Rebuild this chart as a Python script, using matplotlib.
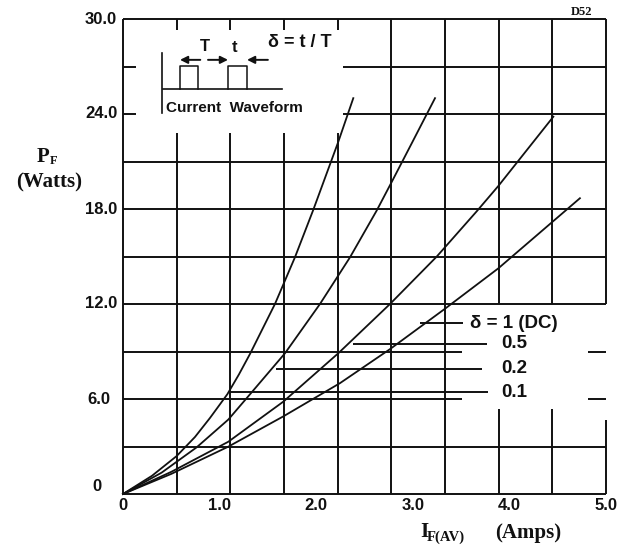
import matplotlib
matplotlib.use("Agg")
import matplotlib.pyplot as plt
import numpy as np

# forward power dissipation vs average forward current
curve_labels = ["0.1", "0.2", "0.5", "1 (DC)"]

i_01 = [0.0, 0.30, 0.556, 0.745, 0.90, 1.080, 1.20, 1.315, 1.573, 1.780, 1.970, 2.229, 2.384]
p_01 = [0.0, 1.15, 2.40, 3.60, 4.80, 6.30, 7.55, 8.85, 12.0, 14.95, 17.95, 22.25, 25.0]

i_02 = [0.0, 0.40, 0.763, 1.090, 1.315, 1.677, 2.039, 2.350, 2.626, 2.781, 2.989, 3.230]
p_02 = [0.0, 1.35, 2.95, 4.70, 6.30, 8.89, 12.0, 14.95, 17.9, 19.7, 22.15, 25.0]

i_05 = [0.0, 0.50, 1.090, 1.659, 2.229, 2.764, 3.247, 3.661, 3.885, 4.455]
p_05 = [0.0, 1.40, 3.30, 5.83, 8.89, 12.0, 14.99, 17.85, 19.45, 23.83]

i_dc = [0.0, 0.50, 1.090, 1.659, 2.246, 2.764, 3.333, 3.885, 4.730]
p_dc = [0.0, 1.27, 2.99, 4.90, 7.00, 9.15, 11.70, 14.25, 18.68]

# leader lines from each curve to its label
leader_y = [6.44, 7.90, 9.48, 10.80]
leader_x0 = [1.11, 1.58, 2.38, 3.07]
leader_x1 = [3.78, 3.72, 3.77, 3.52]
label_x = [3.92, 3.92, 3.92, 3.59]

x_ticks = [0, 1, 2, 3, 4, 5]
x_ticklabels = ["0", "1.0", "2.0", "3.0", "4.0", "5.0"]
y_ticks = [0, 6, 12, 18, 24, 30]
y_ticklabels = ["0", "6.0", "12.0", "18.0", "24.0", "30.0"]

INK = "#111111"
SANS = "Liberation Sans"
SERIF = "Liberation Serif"

fig = plt.figure(figsize=(6.25, 5.54), dpi=100)
ax = fig.add_axes([123 / 625, 60 / 554, 483 / 625, 475 / 554])
ax.set_xlim(0, 5)
ax.set_ylim(0, 30)
ax.axis("off")

GLW = 1.4

def seg_v(x, y0, y1):
    ax.plot([x, x], [y0, y1], color=INK, lw=GLW, solid_capstyle="butt", clip_on=False)

def seg_h(y, x0, x1):
    ax.plot([x0, x1], [y, y], color=INK, lw=GLW, solid_capstyle="butt", clip_on=False)

# vertical grid: 9 columns across 0..5 A, broken where the inset and labels sit
for k in range(1, 9):
    x = 5.0 * k / 9
    if k <= 4:
        seg_v(x, 0, 22.8)
        seg_v(x, 29.3, 30)
    elif k >= 7:
        seg_v(x, 0, 5.4)
        seg_v(x, 12, 30)
    else:
        seg_v(x, 0, 30)

# horizontal grid every 3 W
for j in range(1, 10):
    y = 3 * j
    if y in (6, 9):
        seg_h(y, 0, 3.51)
        seg_h(y, 4.81, 5.0)
    elif y in (24, 27):
        seg_h(y, 2.28, 5.0)
        seg_h(y, 0, 0.13)
    else:
        seg_h(y, 0, 5.0)

# frame (right side open next to the labels)
seg_v(0, 0, 30)
seg_h(0, 0, 5)
seg_h(30, 0, 5)
seg_v(5, 0, 4.7)
seg_v(5, 12, 30)

# curves
for xs, ys in [(i_01, p_01), (i_02, p_02), (i_05, p_05), (i_dc, p_dc)]:
    ax.plot(xs, ys, color=INK, lw=1.3, clip_on=False, solid_joinstyle="round")

# leaders and labels
for lab, y, x0, x1, lx in zip(curve_labels, leader_y, leader_x0, leader_x1, label_x):
    seg_h(y, x0, x1)
    txt = "δ = " + lab if lab.startswith("1") else lab
    ax.text(lx, y, txt, fontsize=13.5, family=SANS, fontweight="bold", color=INK,
            ha="left", va="center")

# tick labels
for x, s in zip(x_ticks, x_ticklabels):
    ax.text(x, -0.75, s, fontsize=12, family=SANS, fontweight="bold", color=INK,
            ha="center", va="center")
for y, s in zip(y_ticks, y_ticklabels):
    if y == 0:
        ax.text(-0.27, 0.45, s, fontsize=12, family=SANS, fontweight="bold", color=INK,
                ha="center", va="center")
    elif y == 6:
        ax.text(-0.13, y, s, fontsize=12, family=SANS, fontweight="bold", color=INK,
                ha="right", va="center")
    else:
        ax.text(-0.06, y, s, fontsize=12, family=SANS, fontweight="bold", color=INK,
                ha="right", va="center")

# axis titles
fig.text(37 / 625, 1 - 157 / 554, "P", fontsize=15, family=SERIF, fontweight="bold",
         color=INK, ha="left", va="center")
fig.text(50 / 625, 1 - 161 / 554, "F", fontsize=9, family=SERIF, fontweight="bold",
         color=INK, ha="left", va="center")
fig.text(49 / 625, 1 - 182 / 554, "(Watts)", fontsize=15, family=SERIF, fontweight="bold",
         color=INK, ha="center", va="center")

fig.text(420 / 625, 1 - 532 / 554, "I", fontsize=15, family=SERIF, fontweight="bold",
         color=INK, ha="left", va="center")
fig.text(427 / 625, 1 - 537 / 554, "F(AV)", fontsize=10.5, family=SERIF, fontweight="bold",
         color=INK, ha="left", va="center")
fig.text(528 / 625, 1 - 533 / 554, "(Amps)", fontsize=15, family=SERIF, fontweight="bold",
         color=INK, ha="center", va="center")

fig.text(582 / 625, 1 - 12 / 554, "D52", fontsize=9, family=SERIF, fontweight="bold",
         color=INK, ha="center", va="center")

# current waveform inset
ax.plot([0.404, 0.404], [24.07, 27.86], color=INK, lw=1.2)
ax.plot([0.414, 1.646], [25.58, 25.58], color=INK, lw=1.2)
for px0, px1 in [(0.59, 0.776), (1.087, 1.284)]:
    ax.plot([px0, px0, px1, px1], [25.58, 27.04, 27.04, 25.58], color=INK, lw=1.1)

arrow = dict(arrowstyle="-|>", color=INK, lw=1.4, mutation_scale=11, shrinkA=0, shrinkB=0)
ax.annotate("", xy=(0.59, 27.42), xytext=(0.80, 27.42), arrowprops=arrow)
ax.annotate("", xy=(1.087, 27.42), xytext=(0.88, 27.42), arrowprops=arrow)
ax.annotate("", xy=(1.284, 27.42), xytext=(1.50, 27.42), arrowprops=arrow)

ax.text(0.85, 28.25, "T", fontsize=12, family=SANS, fontweight="bold", color=INK,
        ha="center", va="center")
ax.text(1.16, 28.2, "t", fontsize=12, family=SANS, fontweight="bold", color=INK,
        ha="center", va="center")
ax.text(1.83, 28.5, "δ = t / T", fontsize=13, family=SANS, fontweight="bold", color=INK,
        ha="center", va="center")
ax.text(0.445, 24.38, "Current  Waveform", fontsize=11, family=SANS, fontweight="bold",
        color=INK, ha="left", va="center")

fig.savefig("out.png", dpi=100, facecolor="white")
